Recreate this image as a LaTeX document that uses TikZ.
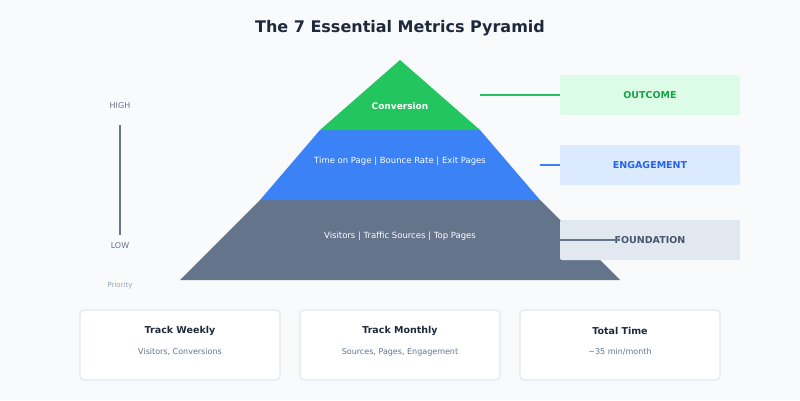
\documentclass[tikz,border=0pt]{standalone}
\usepackage{fontspec}
\setmainfont{DejaVu Sans}
\usetikzlibrary{positioning}
\definecolor{cbg}{HTML}{F8FAFC}
\definecolor{cgreen}{HTML}{22C55E}
\definecolor{cblue}{HTML}{3B82F6}
\definecolor{cslate}{HTML}{64748B}
\definecolor{cdark}{HTML}{1E293B}
\definecolor{cgreenl}{HTML}{DCFCE7}
\definecolor{cbluel}{HTML}{DBEAFE}
\definecolor{cslatel}{HTML}{E2E8F0}
\definecolor{cgreend}{HTML}{16A34A}
\definecolor{cblued}{HTML}{2563EB}
\definecolor{cslated}{HTML}{475569}
\definecolor{cgray}{HTML}{94A3B8}
\begin{document}
\begin{tikzpicture}[x=1pt,y=-1pt,
  tier text/.style={text=white,font=\fontsize{8.5}{10}\selectfont},
  layer box/.style={rounded corners=2pt,minimum width=180pt,minimum height=40pt,font=\fontsize{9.5}{11}\selectfont\bfseries},
  track box/.style={draw=cslatel,line width=1.2pt,fill=white,rounded corners=4pt,minimum width=200pt,minimum height=70pt},
  axis text/.style={text=cslate,font=\fontsize{8}{10}\selectfont}]
  \fill[cbg] (0,0) rectangle (800,400);
  \node[text=cdark,font=\fontsize{16}{19}\selectfont\bfseries] (title) at (400,28) {The 7 Essential Metrics Pyramid};

  % pyramid tiers
  \fill[cslate] (260,200) -- (540,200) -- (620,280) -- (180,280) -- cycle;
  \fill[cblue] (320,130) -- (480,130) -- (540,200) -- (260,200) -- cycle;
  \fill[cgreen] (400,60) -- (480,130) -- (320,130) -- cycle;
  \node[tier text,font=\fontsize{9}{11}\selectfont\bfseries] (conv) at (400,106) {Conversion};
  \node[tier text] (eng) at (400,161) {Time on Page | Bounce Rate | Exit Pages};
  \node[tier text] (found) at (400,236) {Visitors | Traffic Sources | Top Pages};

  % layer labels
  \node[layer box,fill=cgreenl,text=cgreend] (outcome) at (650,95) {OUTCOME};
  \node[layer box,fill=cbluel,text=cblued] (engage) at (650,165) {ENGAGEMENT};
  \node[layer box,fill=cslatel,text=cslated] (base) at (650,240) {FOUNDATION};
  \coordinate (gtip) at (480,95);
  \coordinate (btip) at (540,165);
  \coordinate (stip) at (620,240);
  \draw[cgreen,line width=1.5pt] (gtip) -- (outcome.west);
  \draw[cblue,line width=1.5pt] (btip) -- (engage.west);
  \draw[cslate,line width=1.5pt] (base.west) -- (stip);

  % priority axis
  \node[axis text] (high) at (120,106) {HIGH};
  \node[axis text] (low) at (120,246) {LOW};
  \node[text=cgray,font=\fontsize{7}{9}\selectfont] (prio) at (120,286) {Priority};
  \draw[cslate,line width=1.5pt] (120,125) -- (120,235);

  % tracking boxes
  \foreach \x/\name/\head/\sub in {180/weekly/Track Weekly/{Visitors, Conversions},
      400/monthly/Track Monthly/{Sources, Pages, Engagement},
      620/total/Total Time/{\textasciitilde35 min/month}} {
    \node[track box] (\name) at (\x,345) {};
    \node[text=cdark,font=\fontsize{9.5}{11}\selectfont\bfseries] at (\x,331) {\head};
    \node[text=cslate,font=\fontsize{8}{10}\selectfont] at (\x,352) {\sub};
  }
\end{tikzpicture}
\end{document}
